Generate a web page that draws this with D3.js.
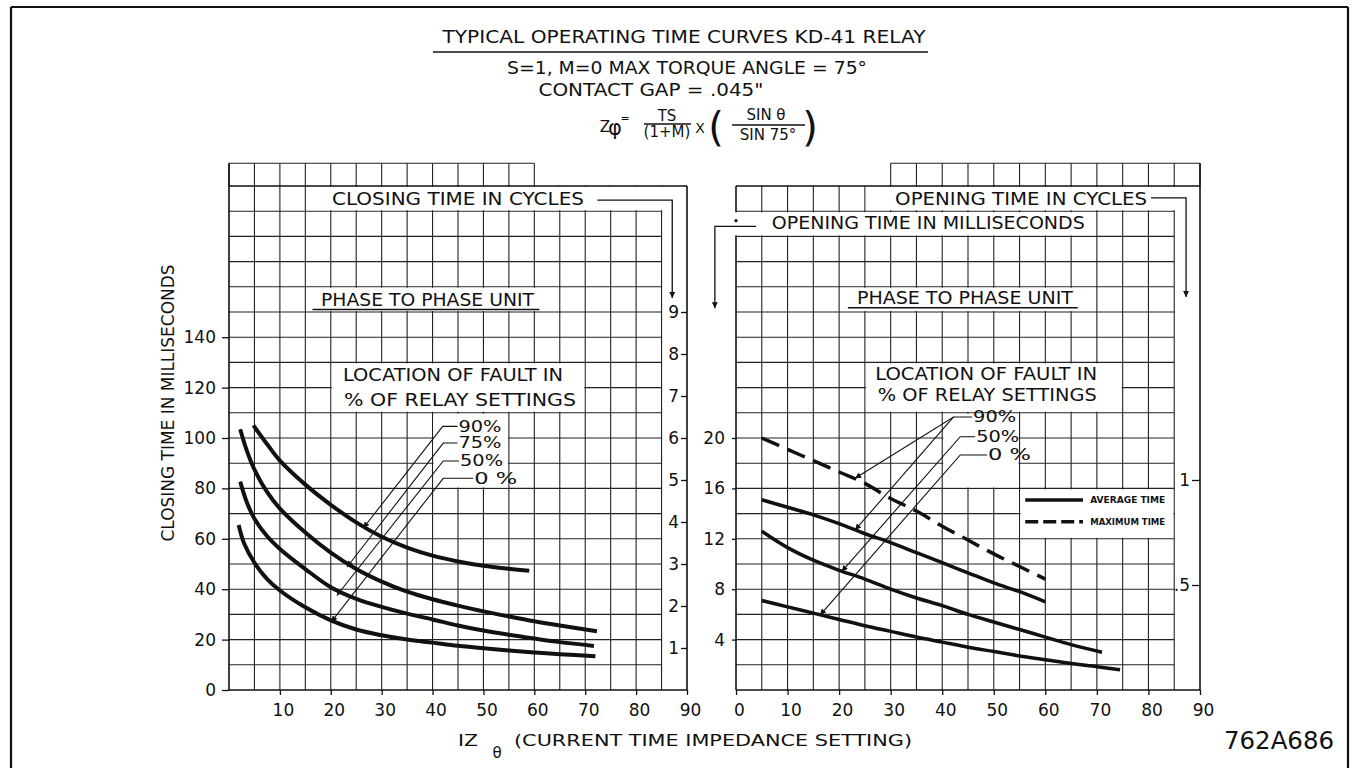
<!DOCTYPE html>
<html>
<head>
<meta charset="utf-8">
<script src="https://cdn.jsdelivr.net/npm/d3@7"></script>
<style>
  body { margin: 0; background: #fff; }
  svg text { font-family: "DejaVu Sans", "Liberation Sans", sans-serif; fill: #111; }
</style>
</head>
<body>
<div id="chart"></div>
<script>
// ---- values (x = IZ setting, y = milliseconds) ----
const closingFault90 = [[4.8,105],[7.5,97.5],[10,91],[15,81.5],[20,73.5],[25,66.5],[30,60.8],[35,56.5],[40,53.3],[45,51],[50,49.3],[55,48.1],[59,47.3]];
const closingFault75 = [[2.2,103.5],[3.5,95],[5,87.5],[7.5,78.5],[10,72],[15,62.5],[20,54.5],[25,48],[30,43],[35,39],[40,36],[45,33.5],[50,31.2],[55,29.2],[60,27.3],[65,25.6],[72.3,23.3]];
const closingFault50 = [[2.2,82.7],[3.5,74.5],[5,68],[7.5,61],[10,56],[15,48],[20,40.8],[25,36.2],[30,33],[35,30.3],[40,28],[45,25.6],[50,23.6],[55,21.9],[60,20.4],[65,19],[71.7,17.5]];
const closingFault0 = [[1.9,65.5],[3,58],[5,50.5],[7.5,44],[10,39.5],[15,32.8],[20,27.6],[25,24],[30,21.7],[35,20],[40,18.8],[45,17.6],[50,16.6],[55,15.7],[60,14.9],[65,14.2],[72,13.4]];

const openingFault90Max = [[5,20],[10,19.1],[15,18.2],[20,17.3],[25,16.4],[30,15.2],[35,14.2],[40,13],[45,11.9],[50,10.8],[55,9.8],[60,8.8]];
const openingFault90 = [[5,15.1],[10,14.5],[15,13.9],[20,13.2],[25,12.4],[30,11.7],[35,10.9],[40,10.1],[45,9.3],[50,8.5],[55,7.8],[60,7]];
const openingFault50 = [[5,12.6],[10,11.3],[15,10.3],[20,9.5],[25,8.8],[30,8],[35,7.3],[40,6.7],[45,6],[50,5.4],[55,4.8],[60,4.2],[65,3.6],[71,3]];
const openingFault0 = [[5,7.1],[10,6.6],[15,6.1],[20,5.6],[25,5.1],[30,4.65],[35,4.2],[40,3.8],[45,3.4],[50,3.05],[55,2.7],[60,2.4],[65,2.1],[70,1.85],[74.5,1.6]];

const closingMsTicks = [0,20,40,60,80,100,120,140];
const closingCycleTicks = [1,2,3,4,5,6,7,8,9];
const openingMsTicks = [4,8,12,16,20];
const openingCycleTicks = [0.5,1];
const leftXTicks = [10,20,30,40,50,60,70,80,90];
const rightXTicks = [0,10,20,30,40,50,60,70,80,90];

// leader lines from the "% of relay settings" labels to the curves
const closingLeaders = [
	{label: "90%", pts: [[44.9,104.6],[42,104.6],[26.4,64.3]]},
	{label: "75%", pts: [[44.9,98],[42.1,98],[23.2,48.8]]},
	{label: "50%", pts: [[45.2,90.9],[42.1,90.9],[21.2,37.5]]},
	{label: "0 %", pts: [[48,84],[42.1,84],[20.1,27]]}
];
const openingLeaders = [
	{label: "90%", pts: [[45.8,21.67],[42.2,21.67],[23.1,16.8]]},
	{label: "", pts: [[42.2,21.67],[23.1,12.7]]},
	{label: "50%", pts: [[46.4,20.1],[43.5,20.1],[20.5,9.4]]},
	{label: "0 %", pts: [[48.7,18.65],[43.5,18.65],[16.3,5.95]]}
];

const W = 1357, H = 768;
const svg = d3.select("#chart").append("svg").attr("width", W).attr("height", H);

svg.append("defs").append("marker")
	.attr("id", "arrow").attr("viewBox", "0 0 10 10")
	.attr("refX", 10).attr("refY", 5)
	.attr("markerWidth", 11).attr("markerHeight", 6)
	.attr("markerUnits", "userSpaceOnUse").attr("orient", "auto")
	.append("path").attr("d", "M0,0L10,5L0,10z").attr("fill", "#111");

function text(g, s, px, py, opt) {
	opt = opt || {};
	const size = opt.size || 17;
	const t = g.append("text")
		.attr("x", px).attr("y", py + 0.36 * size)
		.attr("font-size", size)
		.attr("text-anchor", opt.anchor || "start")
		.text(s);
	if (opt.len) t.attr("textLength", opt.len).attr("lengthAdjust", "spacingAndGlyphs");
	if (opt.weight) t.attr("font-weight", opt.weight);
	return t;
}

function drawPanel(p) {
	const g = svg.append("g");
	const x = p.x, y = p.y;

	// grid
	const segs = [];
	d3.range(5, 90, 5).forEach(v => segs.push([v, 0, v, p.top]));
	d3.range(p.step, p.top, p.step).forEach(h => segs.push([0, h, 85, h]));
	d3.range(p.topRow[0], p.topRow[1] + 1, 5).forEach(v => segs.push([v, p.top, v, p.topEdge]));
	segs.push([p.topRow[0], p.topEdge, p.topRow[1], p.topEdge]);
	g.append("g").selectAll("line").data(segs).join("line")
		.attr("x1", d => x(d[0])).attr("y1", d => y(d[1]))
		.attr("x2", d => x(d[2])).attr("y2", d => y(d[3]))
		.attr("stroke", "#222").attr("stroke-width", 1.1);

	// frame
	const frame = [[0, 0, 0, p.leftTop], [90, 0, 90, p.rightTop], [0, 0, 90, 0], [0, p.top, 90, p.top]];
	g.append("g").selectAll("line").data(frame).join("line")
		.attr("x1", d => x(d[0])).attr("y1", d => y(d[1]))
		.attr("x2", d => x(d[2])).attr("y2", d => y(d[3]))
		.attr("stroke", "#111").attr("stroke-width", 1.6);

	// white label boxes over the grid
	g.append("g").selectAll("rect").data(p.boxes).join("rect")
		.attr("x", d => x(d[0]) + 1).attr("y", d => y(d[3]) + 1)
		.attr("width", d => x(d[1]) - x(d[0]) - 2)
		.attr("height", d => y(d[2]) - y(d[3]) - 2)
		.attr("fill", "#fff");

	// axes
	const xa = g.append("g").attr("transform", `translate(0,${y(0)})`)
		.call(d3.axisBottom(x).tickValues(p.xTicks).tickSize(5).tickPadding(9));
	const ya = g.append("g").attr("transform", `translate(${x(0)},0)`)
		.call(d3.axisLeft(y).tickValues(p.yTicks).tickSize(p.yTickSize).tickPadding(p.yPad));
	const ca = g.append("g").attr("transform", `translate(${x(90)},0)`)
		.call(d3.axisLeft(p.cyc).tickValues(p.cycTicks).tickSize(p.cycTickSize).tickPadding(2)
			.tickFormat(d => d < 1 ? ".5" : d));
	[xa, ya, ca].forEach(a => {
		a.select(".domain").remove();
		a.selectAll("line").attr("stroke", "#111").attr("stroke-width", 1.3);
		a.selectAll("text").attr("font-size", 17).attr("fill", "#111")
			.attr("font-family", "DejaVu Sans, sans-serif");
	});
	xa.selectAll("text").attr("dx", 3);

	// curves
	const line = d3.line().x(d => x(d[0])).y(d => y(d[1])).curve(d3.curveCatmullRom.alpha(0.5));
	g.append("g").selectAll("path").data(p.curves).join("path")
		.attr("d", d => line(d.values))
		.attr("fill", "none").attr("stroke", "#111")
		.attr("stroke-width", p.curveWidth)
		.attr("stroke-dasharray", d => d.dash || null);

	// leader lines
	const lead = d3.line().x(d => x(d[0])).y(d => y(d[1]));
	g.append("g").selectAll("path").data(p.leaders).join("path")
		.attr("d", d => lead(d.pts))
		.attr("fill", "none").attr("stroke", "#111").attr("stroke-width", 1.1)
		.attr("marker-end", "url(#arrow)");
	p.leaders.filter(d => d.label).forEach(d =>
		text(g, d.label, x(d.pts[0][0]) + 1, y(d.pts[0][1]), {size: 15, len: d.label.length > 2 ? 43 : 30}));

	// cycle / ms arrows
	g.append("g").selectAll("path").data(p.arrows).join("path")
		.attr("d", d => lead(d))
		.attr("fill", "none").attr("stroke", "#111").attr("stroke-width", 1.3)
		.attr("marker-end", "url(#arrow)");

	// labels
	p.labels.forEach(l => text(g, l.text, x(l.x), y(l.y), {anchor: l.anchor || "middle", len: l.len}));
	p.underlines.forEach(u => g.append("line")
		.attr("x1", x(u[0])).attr("x2", x(u[1])).attr("y1", y(u[2])).attr("y2", y(u[2]))
		.attr("stroke", "#111").attr("stroke-width", 1.5));
	return g;
}

const xL = d3.scaleLinear().domain([0, 90]).range([229, 687]);
const yL = d3.scaleLinear().domain([0, 200]).range([690, 186]);
const xR = d3.scaleLinear().domain([0, 90]).range([736, 1200]);
const yR = d3.scaleLinear().domain([0, 40]).range([690, 186]);

drawPanel({
	x: xL, y: yL, step: 10, top: 200, topEdge: 209, topRow: [0, 60], leftTop: 209, rightTop: 200,
	cyc: d3.scaleLinear().domain([0, 12]).range([690, 186]), cycTicks: closingCycleTicks, cycTickSize: 6,
	xTicks: leftXTicks, yTicks: closingMsTicks, yTickSize: 7, yPad: 6,
	boxes: [[15, 86, 190, 200], [15, 65, 150, 160], [20, 70, 110, 130], [40, 55, 80, 110]],
	curves: [{values: closingFault90}, {values: closingFault75}, {values: closingFault50}, {values: closingFault0}],
	curveWidth: 4,
	leaders: closingLeaders,
	arrows: [[[72.4, 194.4], [87.1, 194.4], [87.1, 155.6]]],
	labels: [
		{text: "CLOSING TIME IN CYCLES", x: 45, y: 195, len: 252},
		{text: "PHASE TO PHASE UNIT", x: 39, y: 154.8, len: 213},
		{text: "LOCATION OF FAULT IN", x: 22.4, y: 125, len: 220, anchor: "start"},
		{text: "% OF RELAY SETTINGS", x: 22.6, y: 115, len: 232, anchor: "start"}
	],
	underlines: [[16.4, 61, 151]]
});

const right = drawPanel({
	x: xR, y: yR, step: 2, top: 40, topEdge: 41.8, topRow: [30, 90], leftTop: 40, rightTop: 41.8,
	cyc: d3.scaleLinear().domain([0, 2.4]).range([690, 186]), cycTicks: openingCycleTicks, cycTickSize: 8,
	xTicks: rightXTicks, yTicks: openingMsTicks, yTickSize: 4, yPad: 7,
	boxes: [[25, 86, 38, 40], [-5, 70, 36, 38], [20, 70, 30, 32], [25, 75, 22, 26], [40, 55, 16, 22], [55, 85, 12, 16]],
	curves: [{values: openingFault90Max, dash: "19,9"}, {values: openingFault90}, {values: openingFault50}, {values: openingFault0}],
	curveWidth: 3.5,
	leaders: openingLeaders,
	arrows: [[[80.5, 39.05], [87.3, 39.05], [87.3, 31.2]], [[3.9, 36.8], [-4.1, 36.8], [-4.1, 30.3]]],
	labels: [
		{text: "OPENING TIME IN CYCLES", x: 55.3, y: 39.0, len: 252},
		{text: "OPENING TIME IN MILLISECONDS", x: 37.3, y: 37.06, len: 313},
		{text: "PHASE TO PHASE UNIT", x: 44.4, y: 31.1, len: 216},
		{text: "LOCATION  OF FAULT IN", x: 27, y: 25.1, len: 222, anchor: "start"},
		{text: "% OF RELAY SETTINGS", x: 27.5, y: 23.4, len: 219, anchor: "start"}
	],
	underlines: [[21.7, 66.3, 30.34]]
});

// dot at the start of the millisecond leader
right.append("circle").attr("cx", xR(0)).attr("cy", yR(37.25)).attr("r", 1.6).attr("fill", "#111");

// legend
const legend = [{text: "AVERAGE TIME", y: 15.08, dash: null}, {text: "MAXIMUM TIME", y: 13.36, dash: "13,5"}];
legend.forEach(l => {
	right.append("line").attr("x1", xR(56.1)).attr("x2", xR(67.3)).attr("y1", yR(l.y)).attr("y2", yR(l.y))
		.attr("stroke", "#111").attr("stroke-width", 3.5).attr("stroke-dasharray", l.dash);
	text(right, l.text, xR(68.7), yR(l.y), {size: 9, weight: "bold", len: 75});
});

// titles
const t = svg.append("g");
text(t, "TYPICAL OPERATING TIME CURVES KD-41 RELAY", 684, 37, {anchor: "middle", len: 483});
t.append("line").attr("x1", 433).attr("x2", 928).attr("y1", 52).attr("y2", 52).attr("stroke", "#111").attr("stroke-width", 1.6);
text(t, "S=1, M=0  MAX  TORQUE ANGLE = 75°", 687, 68, {anchor: "middle", len: 360});
text(t, "CONTACT  GAP = .045\"", 651, 90, {anchor: "middle", len: 225});

// formula
text(t, "Z", 605, 127, {anchor: "middle", size: 15});
text(t, "φ", 615, 127, {anchor: "middle", size: 21});
text(t, "=", 625, 118, {anchor: "middle", size: 11});
text(t, "TS", 667, 116, {anchor: "middle", size: 15});
t.append("line").attr("x1", 644).attr("x2", 691).attr("y1", 124).attr("y2", 124).attr("stroke", "#111").attr("stroke-width", 1.3);
text(t, "(1+M)", 667, 132, {anchor: "middle", size: 15});
text(t, "X", 700, 128, {anchor: "middle", size: 14});
text(t, "(", 716, 127, {anchor: "middle", size: 40});
text(t, "SIN θ", 766, 115, {anchor: "middle", size: 15});
t.append("line").attr("x1", 732).attr("x2", 805).attr("y1", 125).attr("y2", 125).attr("stroke", "#111").attr("stroke-width", 1.3);
text(t, "SIN 75°", 768, 135, {anchor: "middle", size: 15});
text(t, ")", 810, 127, {anchor: "middle", size: 40});

// axis titles
svg.append("text").attr("transform", "translate(168,403) rotate(-90)")
	.attr("text-anchor", "middle").attr("dy", "0.36em").attr("font-size", 17)
	.attr("textLength", 277).attr("lengthAdjust", "spacingAndGlyphs")
	.text("CLOSING TIME IN MILLISECONDS");
text(svg, "IZ", 458, 740, {size: 16, len: 20});
text(svg, "θ", 497, 753, {anchor: "middle", size: 15});
text(svg, "(CURRENT  TIME  IMPEDANCE  SETTING)", 514, 740, {size: 16, len: 398});
text(svg, "762A686", 1224, 740, {size: 24, len: 110});

// page border
const border = [[11, 7, 1348, 7], [11, 7, 11, 768], [1348, 7, 1348, 768]];
svg.append("g").selectAll("line").data(border).join("line")
	.attr("x1", d => d[0]).attr("y1", d => d[1]).attr("x2", d => d[2]).attr("y2", d => d[3])
	.attr("stroke", "#111").attr("stroke-width", 2.2);
</script>
</body>
</html>
